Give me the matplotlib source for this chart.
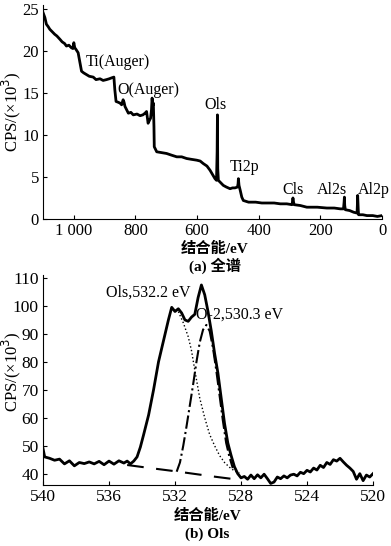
import matplotlib.pyplot as plt

plt.rcParams['font.family'] = ['Liberation Serif', 'Noto Sans CJK SC']
plt.rcParams['xtick.direction'] = 'in'
plt.rcParams['ytick.direction'] = 'in'

# (a) survey spectrum
survey_ev = [1100, 1094, 1089, 1083, 1078, 1070, 1062, 1055, 1045, 1038, 1030, 1024, 1016, 1008,
             1003, 1000, 997, 993, 986, 980, 975, 968, 959, 950, 937, 928, 915, 905, 894, 885, 878,
             870, 867, 863, 856, 850, 845, 840, 837, 834, 823, 815, 807, 795, 785, 776, 769, 764,
             759, 754, 751, 748, 746, 744, 742, 740, 739, 731, 715, 699, 683, 666, 650, 634, 618,
             601, 590, 580, 568, 558, 550, 542, 537, 535, 534, 533, 531, 523, 515, 505, 493, 485,
             477, 469, 467, 466, 464, 460, 455, 450, 433, 410, 390, 374, 350, 330, 309, 292, 290,
             289, 287, 285, 265, 244, 210, 179, 155, 135, 125, 123, 122, 121, 119, 105, 92, 81, 80,
             79, 77, 76, 62, 49, 30, 15, 0]
survey_cps = [24.6, 24.0, 23.2, 22.9, 22.6, 22.3, 22.0, 21.8, 21.4, 21.1, 20.9, 20.6, 20.7, 20.4,
              20.3, 21.0, 20.4, 20.2, 19.8, 18.6, 17.6, 17.4, 17.2, 17.0, 16.9, 16.6, 16.7, 16.5,
              16.6, 16.7, 16.8, 16.9, 15.4, 14.0, 13.9, 13.8, 13.6, 14.2, 13.9, 13.4, 12.6, 12.7,
              12.4, 12.5, 12.3, 12.4, 12.6, 12.8, 11.4, 11.8, 12.0, 13.0, 14.4, 13.5, 13.8, 11.0,
              8.6, 8.0, 7.9, 7.8, 7.6, 7.4, 7.4, 7.2, 7.1, 7.0, 6.9, 6.6, 6.3, 5.8, 5.3, 4.8, 4.6,
              8.0, 12.4, 6.0, 4.6, 4.3, 4.0, 3.8, 3.6, 3.7, 3.7, 3.8, 4.2, 4.8, 4.0, 3.4, 2.6, 2.2,
              2.0, 2.0, 1.9, 1.9, 1.9, 1.8, 1.8, 1.7, 2.2, 2.5, 2.0, 1.7, 1.6, 1.4, 1.4, 1.3, 1.3,
              1.2, 1.2, 2.0, 2.6, 1.6, 1.1, 1.0, 0.8, 0.7, 1.6, 2.8, 1.0, 0.5, 0.5, 0.4, 0.4, 0.3,
              0.4]

survey_labels = ['Ti(Auger)', 'O(Auger)', 'Ols', 'Ti2p', 'Cls', 'Al2s', 'Al2p']
label_ev = [960, 858, 578, 493, 322, 211, 78]
label_cps = [18.7, 15.4, 13.6, 6.2, 3.4, 3.4, 3.4]

# (b) O1s region
o1s_ev = [540.0, 539.9, 539.6, 539.3, 539.0, 538.7, 538.4, 538.1, 537.8, 537.5, 537.2, 536.9,
          536.6, 536.3, 536.0, 535.7, 535.4, 535.1, 534.9, 534.7, 534.5, 534.3, 534.1, 533.9,
          533.6, 533.3, 533.0, 532.8, 532.6, 532.4, 532.2, 532.0, 531.8, 531.6, 531.4, 531.2,
          531.0, 530.8, 530.6, 530.4, 530.2, 530.0, 529.8, 529.6, 529.4, 529.2, 529.0, 528.8,
          528.6, 528.4, 528.2, 528.0, 527.8, 527.6, 527.4, 527.2, 527.0, 526.8, 526.6, 526.4,
          526.2, 526.0, 525.8, 525.6, 525.4, 525.2, 525.0, 524.8, 524.6, 524.4, 524.2, 524.0,
          523.8, 523.6, 523.4, 523.2, 523.0, 522.8, 522.6, 522.4, 522.2, 522.0, 521.8, 521.6,
          521.4, 521.2, 521.0, 520.8, 520.6, 520.4, 520.2, 520.0]
o1s_cps = [49.0, 46.0, 45.5, 44.8, 45.2, 43.5, 44.6, 42.8, 44.0, 43.6, 44.2, 43.5,
           44.4, 43.2, 44.5, 43.4, 44.6, 43.8, 44.5, 43.5, 44.5, 46.0, 49.5, 54.0,
           61.0, 70.0, 80.0, 85.0, 90.0, 95.0, 99.5, 98.0, 99.0, 97.5, 95.0, 94.5,
           96.0, 97.0, 103.0, 107.5, 104.0, 98.0, 91.0, 83.0, 76.0, 67.0, 58.0, 51.0,
           46.5, 42.5, 40.0, 38.5, 39.0, 38.0, 39.5, 38.2, 39.6, 38.5, 39.8, 38.2,
           36.5, 37.0, 38.8, 38.2, 39.2, 38.5, 39.5, 39.8, 39.2, 40.5, 40.0, 41.2,
           40.6, 42.0, 41.3, 43.0, 42.2, 44.0, 43.3, 45.0, 44.5, 45.5, 44.2, 43.0,
           42.0, 40.8, 38.0, 40.0, 37.5, 39.5, 38.8, 40.0]

comp1_ev = [532.0, 531.8, 531.5, 531.2, 531.0, 530.8, 530.5, 530.2, 529.9, 529.6, 529.3,
            529.0, 528.7, 528.4, 528.1]
comp1_cps = [98.5, 98.0, 94.0, 89.0, 84.0, 77.0, 67.0, 60.0, 54.0, 50.0, 46.5,
             44.0, 42.3, 41.0, 40.2]

comp2_ev = [531.9, 531.7, 531.5, 531.3, 531.1, 530.9, 530.7, 530.5, 530.3, 530.1, 529.9,
            529.7, 529.5, 529.3, 529.1, 528.9, 528.7, 528.5]
comp2_cps = [40.7, 44.0, 50.0, 57.0, 64.5, 72.0, 80.0, 87.0, 91.5, 93.2, 91.0,
             85.0, 77.0, 68.0, 59.0, 51.0, 46.0, 42.0]

base_ev = [534.9, 533.5, 531.9, 529.7, 528.5]
base_cps = [43.1, 42.0, 40.8, 39.0, 38.1]

fig = plt.figure(figsize=(3.91, 5.46), dpi=100)

ax1 = fig.add_axes([0.110, 0.599, 0.867, 0.392])
ax1.plot(survey_ev, survey_cps, color='black', lw=2.0)
for t, x, y in zip(survey_labels, label_ev, label_cps):
    ax1.text(x, y, t, fontsize=11.5, ha='left', va='center')
ax1.set_xlim(1100, 0)
ax1.set_ylim(0, 25.5)
ax1.set_xticks([1000, 800, 600, 400, 200, 0])
ax1.set_xticklabels(['1 000', '800', '600', '400', '200', '0'])
ax1.set_yticks([0, 5, 10, 15, 20, 25])
ax1.tick_params(labelsize=12, length=3, pad=3)
ax1.spines['top'].set_visible(False)
ax1.spines['right'].set_visible(False)

ax2 = fig.add_axes([0.110, 0.112, 0.844, 0.384])
ax2.plot(o1s_ev, o1s_cps, color='black', lw=2.0)
ax2.plot(comp1_ev, comp1_cps, color='black', lw=1.0, ls=':')
ax2.plot(comp2_ev, comp2_cps, color='black', lw=1.5, ls='-.')
ax2.plot(base_ev, base_cps, color='black', lw=1.5, dashes=(8, 6))
ax2.text(536.2, 104.6, 'Ols,532.2 eV', fontsize=11.5, ha='left', va='center')
ax2.text(530.7, 96.8, 'O-2,530.3 eV', fontsize=11.5, ha='left', va='center')
ax2.set_xlim(540, 520)
ax2.set_ylim(36, 111)
ax2.set_xticks([540, 536, 532, 528, 524, 520])
ax2.set_yticks([40, 50, 60, 70, 80, 90, 100, 110])
ax2.tick_params(labelsize=12.5, length=3, pad=3)
ax2.spines['top'].set_visible(False)
ax2.spines['right'].set_visible(False)

fig.text(11 / 391, 1 - 112 / 546, 'CPS/(×10$^3$)', fontsize=12, rotation=90, ha='center', va='center')
fig.text(11 / 391, 1 - 372 / 546, 'CPS/(×10$^3$)', fontsize=12, rotation=90, ha='center', va='center')
fig.text(0.55, 1 - 249 / 546, '结合能/eV', fontsize=11, fontweight='bold', ha='center', va='center')
fig.text(0.55, 1 - 266 / 546, '(a) 全谱', fontsize=11, fontweight='bold', ha='center', va='center')
fig.text(0.53, 1 - 516 / 546, '结合能/eV', fontsize=11, fontweight='bold', ha='center', va='center')
fig.text(0.53, 1 - 534 / 546, '(b) Ols', fontsize=11, fontweight='bold', ha='center', va='center')

fig.savefig('out.png', dpi=100)
